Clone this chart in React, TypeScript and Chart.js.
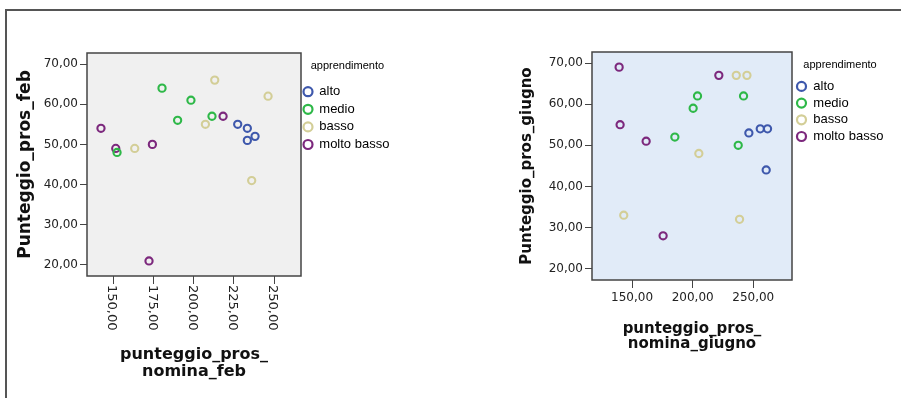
import React, { useEffect, useRef } from "react";
import { Chart, registerables } from "chart.js";

Chart.register(...registerables);

// ---------- data ----------
const groups = ["alto", "medio", "basso", "molto basso"];
const groupColors = ["#3e58ac", "#2eb848", "#d3ce97", "#7c287d"];
const legendTitle = "apprendimento";

// February panel
const febAltoX = [227.4, 233.4, 233.4, 238.2];
const febAltoY = [55, 54, 51, 52];
const febMedioX = [152.3, 180.3, 190.0, 198.3, 211.4];
const febMedioY = [48, 64, 56, 61, 57];
const febBassoX = [163.3, 207.3, 213.1, 236.1, 246.3];
const febBassoY = [49, 55, 66, 41, 62];
const febMoltoBassoX = [142.3, 151.5, 174.3, 172.2, 218.3];
const febMoltoBassoY = [54, 49, 50, 21, 57];

// June panel
const giuAltoX = [246.4, 255.8, 261.8, 260.7];
const giuAltoY = [53, 54, 54, 44];
const giuMedioX = [185.3, 200.4, 204.0, 237.6, 242.0];
const giuMedioY = [52, 59, 62, 50, 62];
const giuBassoX = [143.1, 205.1, 236.0, 244.8, 238.7];
const giuBassoY = [33, 48, 67, 67, 32];
const giuMoltoBassoX = [139.3, 140.1, 161.6, 175.6, 221.6];
const giuMoltoBassoY = [69, 55, 51, 28, 67];

const yTicks = [20, 30, 40, 50, 60, 70];
const febXTicks = [150, 175, 200, 225, 250];
const giuXTicks = [150, 200, 250];

const febYTitle = "Punteggio_pros_feb";
const febXTitle = ["punteggio_pros_", "nomina_feb"];
const giuYTitle = "Punteggio_pros_giugno";
const giuXTitle = ["punteggio_pros_", "nomina_giugno"];

const fmt = (v: number) => v.toFixed(2).replace(".", ",");

function pts(xs: number[], ys: number[]) {
  return xs.map((x, i) => ({ x, y: ys[i] }));
}

const TICK_FONT = "'DejaVu Sans', sans-serif";
const TITLE_FONT = "'DejaVu Sans', sans-serif";
const LEGEND_FONT = "'Liberation Sans', Arial, sans-serif";

type PanelSpec = {
  left: number;
  width: number;
  height: number;
  pad: { left: number; top: number; right: number; bottom: number };
  yWidth: number;
  xHeight: number;
  xMin: number;
  xMax: number;
  yMin: number;
  yMax: number;
  xTicks: number[];
  rotatedX: boolean;
  yTitle: string;
  yTitleSize: number;
  yTitlePad: number;
  xTitle: string[];
  xTitleSize: number;
  xTitleLH: number;
  xTitlePad: number;
  bg: string;
  legend: { marker: number; text: number; title: number; titleY: number; rowStart: number; rowGap: number };
  series: { x: number[]; y: number[] }[];
};

function makePlugin(spec: PanelSpec) {
  return {
    id: "spssPanel",
    beforeDraw(chart: any) {
      const { ctx, chartArea: a } = chart;
      ctx.save();
      ctx.fillStyle = spec.bg;
      ctx.fillRect(a.left, a.top, a.right - a.left, a.bottom - a.top);
      ctx.restore();
    },
    afterDraw(chart: any) {
      const { ctx, chartArea: a } = chart;
      ctx.save();
      // plot frame
      ctx.strokeStyle = "#444";
      ctx.lineWidth = 1.5;
      ctx.strokeRect(a.left, a.top, a.right - a.left, a.bottom - a.top);

      // rotated x tick labels
      if (spec.rotatedX) {
        const xs = chart.scales.x;
        ctx.fillStyle = "#222";
        ctx.font = `13px ${TICK_FONT}`;
        ctx.textAlign = "left";
        ctx.textBaseline = "middle";
        for (const t of xs.ticks) {
          const px = xs.getPixelForValue(t.value);
          ctx.save();
          ctx.translate(px - 1.5, a.bottom + 9);
          ctx.rotate(Math.PI / 2);
          ctx.fillText(fmt(t.value), 0, 0);
          ctx.restore();
        }
      }

      // legend
      const L = spec.legend;
      ctx.fillStyle = "#000";
      ctx.textAlign = "left";
      ctx.textBaseline = "middle";
      ctx.font = `11px ${LEGEND_FONT}`;
      ctx.fillText(legendTitle, a.right + L.title, a.top + L.titleY);
      ctx.font = `13px ${LEGEND_FONT}`;
      chart.data.datasets.forEach((ds: any, i: number) => {
        const y = a.top + L.rowStart + i * L.rowGap;
        ctx.beginPath();
        ctx.arc(a.right + L.marker, y, 4.5, 0, Math.PI * 2);
        ctx.strokeStyle = ds.borderColor;
        ctx.lineWidth = 2.2;
        ctx.stroke();
        ctx.fillStyle = "#000";
        ctx.fillText(ds.label, a.right + L.text, y);
      });
      ctx.restore();
    },
  };
}

function Panel({ spec }: { spec: PanelSpec }) {
  const ref = useRef<HTMLCanvasElement | null>(null);
  useEffect(() => {
    if (!ref.current) return;
    const chart = new Chart(ref.current, {
      type: "scatter",
      data: {
        datasets: spec.series.map((s, i) => ({
          label: groups[i],
          data: pts(s.x, s.y),
          borderColor: groupColors[i],
          backgroundColor: "transparent",
          pointRadius: 3.6,
          pointHoverRadius: 3.6,
          pointBorderWidth: 2.1,
          pointStyle: "circle",
        })),
      },
      options: {
        responsive: false,
        animation: false,
        events: [],
        layout: { padding: spec.pad },
        plugins: {
          legend: { display: false },
          tooltip: { enabled: false },
        },
        scales: {
          x: {
            type: "linear",
            min: spec.xMin,
            max: spec.xMax,
            afterBuildTicks: (s: any) => {
              s.ticks = spec.xTicks.map((v) => ({ value: v }));
            },
            afterFit: (s: any) => {
              s.height = spec.xHeight;
            },
            border: { display: false },
            grid: { drawOnChartArea: false, drawTicks: true, tickLength: 8, color: "#444", lineWidth: 1 },
            ticks: {
              display: !spec.rotatedX,
              maxRotation: 0,
              minRotation: 0,
              padding: 3,
              color: "#222",
              font: { family: TICK_FONT, size: 12 },
              callback: (v: any) => fmt(Number(v)),
            },
            title: {
              display: true,
              text: spec.xTitle,
              color: "#111",
              font: { family: TITLE_FONT, size: spec.xTitleSize, weight: "bold", lineHeight: spec.xTitleLH },
              padding: { top: 0, bottom: spec.xTitlePad },
            },
          },
          y: {
            type: "linear",
            min: spec.yMin,
            max: spec.yMax,
            afterBuildTicks: (s: any) => {
              s.ticks = yTicks.map((v) => ({ value: v }));
            },
            afterFit: (s: any) => {
              s.width = spec.yWidth;
            },
            border: { display: false },
            grid: { drawOnChartArea: false, drawTicks: true, tickLength: 7, color: "#444", lineWidth: 1 },
            ticks: {
              padding: 2,
              color: "#222",
              font: { family: TICK_FONT, size: 12 },
              callback: (v: any) => fmt(Number(v)),
            },
            title: {
              display: true,
              text: spec.yTitle,
              color: "#111",
              font: { family: TITLE_FONT, size: spec.yTitleSize, weight: "bold" },
              padding: { top: spec.yTitlePad, bottom: 0 },
            },
          },
        },
      },
      plugins: [makePlugin(spec)],
    } as any);
    return () => chart.destroy();
  }, [spec]);
  return (
    <canvas
      ref={ref}
      width={spec.width}
      height={spec.height}
      style={{ position: "absolute", left: spec.left, top: 0, width: spec.width, height: spec.height }}
    />
  );
}

const febSpec: PanelSpec = {
  left: 0,
  width: 450,
  height: 398,
  pad: { left: 0, top: 53, right: 149, bottom: 0 },
  yWidth: 87,
  xHeight: 122,
  xMin: 133.6,
  xMax: 266.8,
  yMin: 17.26,
  yMax: 72.74,
  xTicks: febXTicks,
  rotatedX: true,
  yTitle: febYTitle,
  yTitleSize: 17,
  yTitlePad: 15.8,
  xTitle: febXTitle,
  xTitleSize: 16,
  xTitleLH: 1.1,
  xTitlePad: 17.2,
  bg: "#f0f0f0",
  legend: { marker: 7, text: 18.3, title: 9.7, titleY: 13, rowStart: 38.7, rowGap: 17.6 },
  series: [
    { x: febAltoX, y: febAltoY },
    { x: febMedioX, y: febMedioY },
    { x: febBassoX, y: febBassoY },
    { x: febMoltoBassoX, y: febMoltoBassoY },
  ],
};

const giuSpec: PanelSpec = {
  left: 450,
  width: 451,
  height: 398,
  pad: { left: 0, top: 52, right: 109, bottom: 0 },
  yWidth: 142,
  xHeight: 118,
  xMin: 116.9,
  xMax: 282,
  yMin: 17.25,
  yMax: 72.68,
  xTicks: giuXTicks,
  rotatedX: false,
  yTitle: giuYTitle,
  yTitleSize: 15,
  yTitlePad: 68,
  xTitle: giuXTitle,
  xTitleSize: 15,
  xTitleLH: 1.0,
  xTitlePad: 46,
  bg: "#e1ebf8",
  legend: { marker: 9.5, text: 21.3, title: 11.3, titleY: 12.7, rowStart: 34.4, rowGap: 16.7 },
  series: [
    { x: giuAltoX, y: giuAltoY },
    { x: giuMedioX, y: giuMedioY },
    { x: giuBassoX, y: giuBassoY },
    { x: giuMoltoBassoX, y: giuMoltoBassoY },
  ],
};

export default function App() {
  return (
    <div style={{ position: "absolute", left: 0, top: 0, width: 901, height: 398, background: "#fff", overflow: "hidden" }}>
      <div
        style={{
          position: "absolute",
          left: 5,
          top: 9,
          width: 900,
          height: 400,
          borderTop: "2px solid #555",
          borderLeft: "2px solid #555",
        }}
      />
      <Panel spec={febSpec} />
      <Panel spec={giuSpec} />
    </div>
  );
}
